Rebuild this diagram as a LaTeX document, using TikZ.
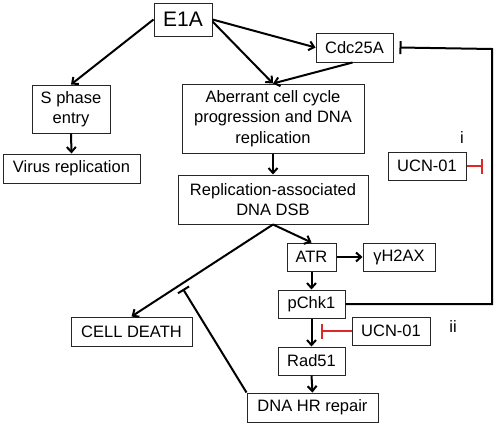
\documentclass[tikz,border=0pt]{standalone}
\usepackage{fontspec}
\setmainfont{Liberation Sans}
\usetikzlibrary{arrows.meta}
\definecolor{ucnred}{RGB}{220,40,40}

\tikzset{
    box/.style={draw=black!85, line width=1pt, inner sep=2pt, align=center, font=\fontsize{16.5}{20.5}\selectfont},
    act/.style={-{Straight Barb[length=5pt,width=9pt]}, line width=2pt},
    inh/.style={-{Bar[width=13pt]}, line width=2pt},
    redinh/.style={-{Bar[width=15pt]}, line width=1.6pt, draw=ucnred},
    lbl/.style={font=\fontsize{16.5}{20}\selectfont}
}

\begin{document}
\begin{tikzpicture}[x=1pt, y=-1pt]
            \useasboundingbox (0,0) rectangle (495,423);

            %Nodes
            \node[box, font=\fontsize{21}{24}\selectfont, minimum width=58, minimum height=33] at (183,19.5) (E1A) {E1A};
            \node[box, minimum width=77, minimum height=29] at (354.5,47.5) (cdc) {Cdc25A};
            \node[box, minimum width=78, minimum height=48] at (71,109) (sphase) {S phase\\entry};
            \node[box, minimum width=137, minimum height=29] at (71.5,168.5) (virus) {Virus replication};
            \node[box, minimum width=182, minimum height=69] at (273,118.5) (aberr) {Aberrant cell cycle\\progression and DNA\\replication};
            \node[box, minimum width=190, minimum height=49] at (273,199.5) (dsb) {Replication-associated\\DNA DSB};
            \node[box, minimum width=78, minimum height=28] at (427,166) (ucntop) {UCN-01};
            \node[box, minimum width=49, minimum height=28] at (311.5,257) (atr) {ATR};
            \node[box, minimum width=72, minimum height=28] at (399,257) (gh2ax) {γH2AX};
            \node[box, minimum width=67, minimum height=28] at (311.5,304) (pchk) {pChk1};
            \node[box, minimum width=78, minimum height=28] at (391,331) (ucnbot) {UCN-01};
            \node[box, minimum width=67, minimum height=28] at (311.5,361) (rad) {Rad51};
            \node[box, minimum width=131, minimum height=29] at (312.5,407.5) (hr) {DNA HR repair};
            \node[box, minimum width=121, minimum height=29] at (131.5,331.5) (death) {CELL DEATH};
            \node[lbl] at (462,138) (labi) {i};
            \node[lbl] at (453,327) (labii) {ii};

            \coordinate (fb) at (492,49);
            \coordinate (hrbar) at (183,289);
            \coordinate (ucnend) at (483,166);
            \coordinate (redend) at (321,331);

            %Lines
            \draw[act] (E1A.west) -- (sphase.north);
            \draw[act] ([yshift=-2pt]E1A.east) -- (aberr.north);
            \draw[act] (E1A.east) -- (cdc.west);
            \draw[act] ([xshift=-2pt]cdc.south) -- (aberr.north);
            \draw[act] (sphase.south) -- (virus.north);
            \draw[act] (aberr.south) -- (dsb.north);
            \draw[act] (dsb.south) -- (death.north);
            \draw[act] (dsb.south) -- (atr.north);
            \draw[act] (atr.east) -- (gh2ax.west);
            \draw[act] (atr.south) -- (pchk.north);
            \draw[act] (pchk.south) -- (rad.north);
            \draw[act] (rad.south) -- (hr.north);
            \draw[inh] (hr.north west) -- (hrbar);
            \draw[inh] (pchk.east) -| (fb) -- ([xshift=6pt]cdc.east);
            \draw[redinh] (ucntop.east) -- (ucnend);
            \draw[redinh] (ucnbot.west) -- (redend);
        \end{tikzpicture}
\end{document}
